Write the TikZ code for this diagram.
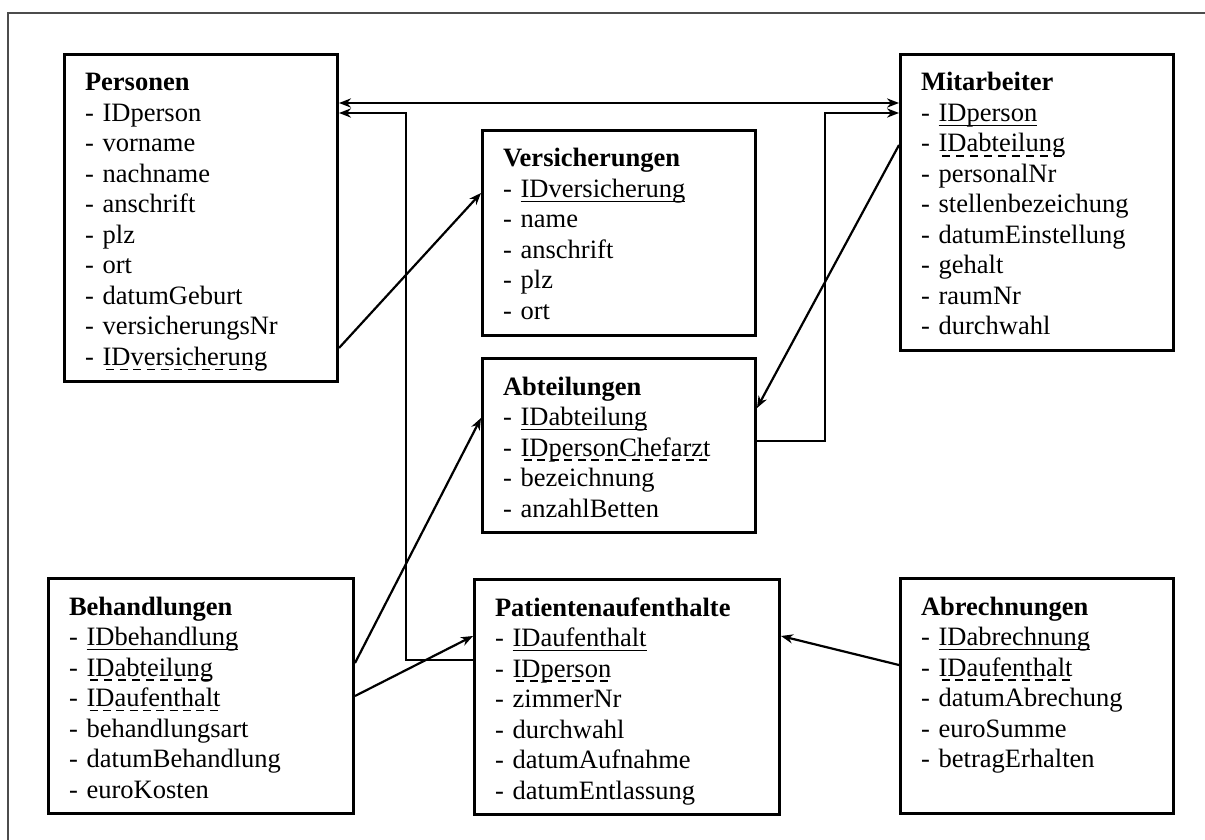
\documentclass[tikz,border=0pt]{standalone}
\usepackage{fontspec}
\setmainfont{Liberation Serif}
\usepackage{tikz}
\usetikzlibrary{arrows.meta,positioning,calc}
\newsavebox{\keybox}
\newcommand{\tabname}[1]{\textbf{#1}}
\newcommand{\prikey}[1]{\sbox{\keybox}{#1}%
  \rlap{\rule[-2.3pt]{\wd\keybox}{0.7pt}}\usebox{\keybox}}
\newcommand{\forkey}[1]{\sbox{\keybox}{#1}%
  \rlap{\hbox to \wd\keybox{\xleaders\hbox{\kern1.2pt\rule[-2.3pt]{4pt}{0.6pt}\kern1.2pt}\hfill}}%
  \usebox{\keybox}}

\begin{document}
\begin{tikzpicture}[x=0.5pt, y=-0.5pt, >={Stealth[length=6pt,width=4.6pt]},
  entity/.style={draw, line width=1.5pt, anchor=north west, align=left,
    inner xsep=10.25pt, inner ysep=3.2pt, text width=#1,
    font={\fontsize{13.25}{15.25}\selectfont},
    execute at begin node={\rule{0pt}{15.05pt}},
    execute at end node={\strut}},
  link/.style={line width=1.1pt}]
\useasboundingbox (0,0) rectangle (1205,840);
\draw[line width=1.1pt, black!70] (8,840) -- (8,13) -- (1205,13);

% tables
\node (Pers) [entity=116pt] at (63,53) {\tabname{Personen}\\
  - IDperson\\ - vorname\\ - nachname\\ - anschrift\\ - plz\\ - ort\\
  - datumGeburt\\ - versicherungsNr\\ - \forkey{IDversicherung}};
\node (Vers) [entity=116pt] at (481,129) {\tabname{Versicherungen}\\
  - \prikey{IDversicherung}\\ - name\\ - anschrift\\ - plz\\ - ort};
\node (Abt) [entity=116pt] at (481,357) {\tabname{Abteilungen}\\
  - \prikey{IDabteilung}\\ - \forkey{IDpersonChefarzt}\\ - bezeichnung\\
  - anzahlBetten};
\node (Mit) [entity=116pt] at (899,53) {\tabname{Mitarbeiter}\\
  - \prikey{IDperson}\\ - \forkey{IDabteilung}\\ - personalNr\\
  - stellenbezeichung\\ - datumEinstellung\\ - gehalt\\ - raumNr\\
  - durchwahl};
\node (Beh) [entity=132pt] at (47,577) {\tabname{Behandlungen}\\
  - \prikey{IDbehandlung}\\ - \forkey{IDabteilung}\\ - \forkey{IDaufenthalt}\\
  - behandlungsart\\ - datumBehandlung\\ - euroKosten};
\node (Pat) [entity=132pt] at (473,578) {\tabname{Patientenaufenthalte}\\
  - \prikey{IDaufenthalt}\\ - \forkey{IDperson}\\ - zimmerNr\\ - durchwahl\\
  - datumAufnahme\\ - datumEntlassung};
\node (Abr) [entity=116pt] at (899,577) {\tabname{Abrechnungen}\\
  - \prikey{IDabrechnung}\\ - \forkey{IDaufenthalt}\\ - datumAbrechung\\
  - euroSumme\\ - betragErhalten\\ \mbox{}};

% relations
\draw[link, <->] (Pers.east |- 0,103) -- (Mit.west |- 0,103);
\draw[link, ->] (Pat.west |- 0,660) -| (406,113) -- (Pers.east |- 0,113);
\draw[link, ->] (Abt.east |- 0,441) -| (825,113) -- (Mit.west |- 0,113);
\draw[link, ->] (Pers.east |- 0,348) -- (Vers.west |- 0,193);
\draw[link, ->] (Mit.west |- 0,145) -- (Abt.east |- 0,408);
\draw[link, ->] (Beh.east |- 0,663) -- (Abt.west |- 0,418);
\draw[link, ->] (Beh.east |- 0,696) -- (Pat.west |- 0,636);
\draw[link, ->] (Abr.west |- 0,665) -- (Pat.east |- 0,636);
\end{tikzpicture}
\end{document}
